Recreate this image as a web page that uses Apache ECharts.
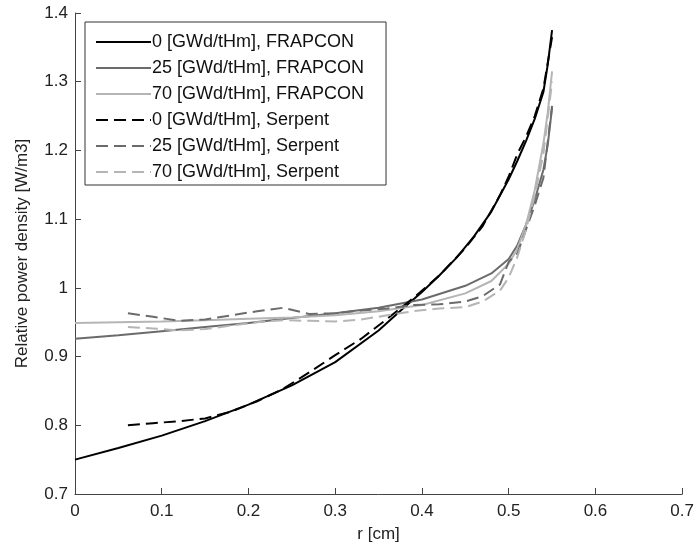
<!DOCTYPE html>
<html>
<head>
<meta charset="utf-8">
<script src="https://cdn.jsdelivr.net/npm/echarts@6/dist/echarts.min.js"></script>
<style>
html,body{margin:0;padding:0;background:#fff;}
#chart{width:697px;height:551px;}
</style>
</head>
<body>
<div id="chart"></div>
<script>
// ---- data ----
const seriesNames = [
  '0 [GWd/tHm], FRAPCON',
  '25 [GWd/tHm], FRAPCON',
  '70 [GWd/tHm], FRAPCON',
  '0 [GWd/tHm], Serpent',
  '25 [GWd/tHm], Serpent',
  '70 [GWd/tHm], Serpent'
];
const xTicks = [0, 0.1, 0.2, 0.3, 0.4, 0.5, 0.6, 0.7];
const yTicks = [0.7, 0.8, 0.9, 1.0, 1.1, 1.2, 1.3, 1.4];

const xFrap0 = [0, 0.05, 0.1, 0.15, 0.2, 0.25, 0.3, 0.35, 0.38, 0.4, 0.42, 0.44, 0.46, 0.48, 0.5, 0.51, 0.52, 0.53, 0.54, 0.545, 0.55];
const yFrap0 = [0.750, 0.767, 0.785, 0.806, 0.830, 0.858, 0.892, 0.938, 0.972, 0.994, 1.018, 1.044, 1.075, 1.111, 1.158, 1.185, 1.214, 1.246, 1.285, 1.325, 1.375];

const xFrap = [0, 0.05, 0.1, 0.15, 0.2, 0.25, 0.3, 0.35, 0.4, 0.45, 0.48, 0.5, 0.51, 0.52, 0.53, 0.54, 0.545, 0.55];
const yFrap25 = [0.926, 0.931, 0.937, 0.943, 0.949, 0.956, 0.963, 0.971, 0.983, 1.003, 1.021, 1.042, 1.062, 1.092, 1.128, 1.172, 1.208, 1.262];
const yFrap70 = [0.949, 0.950, 0.951, 0.953, 0.955, 0.957, 0.960, 0.966, 0.975, 0.992, 1.010, 1.035, 1.057, 1.092, 1.142, 1.210, 1.255, 1.315];

const xSerp = [0.061, 0.09, 0.12, 0.15, 0.18, 0.21, 0.24, 0.27, 0.30, 0.33, 0.36, 0.39, 0.42, 0.45, 0.47, 0.49, 0.50, 0.51, 0.52, 0.53, 0.54, 0.55];
const ySerp0 = [0.800, 0.803, 0.806, 0.810, 0.820, 0.835, 0.853, 0.877, 0.902, 0.926, 0.955, 0.985, 1.018, 1.058, 1.090, 1.135, 1.162, 1.195, 1.220, 1.250, 1.290, 1.365];
const ySerp25 = [0.963, 0.958, 0.952, 0.954, 0.960, 0.966, 0.971, 0.962, 0.963, 0.967, 0.970, 0.975, 0.976, 0.980, 0.988, 1.005, 1.038, 1.050, 1.085, 1.120, 1.160, 1.265];
const ySerp70 = [0.943, 0.941, 0.938, 0.940, 0.945, 0.950, 0.953, 0.952, 0.951, 0.954, 0.960, 0.966, 0.970, 0.972, 0.980, 0.996, 1.015, 1.045, 1.085, 1.135, 1.195, 1.300];

// ---- chart ----
const zip = (xs, ys) => xs.map((x, i) => [x, ys[i]]);
const colors = ['#000000', '#6b6b6b', '#b5b5b5', '#000000', '#6b6b6b', '#b5b5b5'];
const sets = [
  zip(xFrap0, yFrap0), zip(xFrap, yFrap25), zip(xFrap, yFrap70),
  zip(xSerp, ySerp0), zip(xSerp, ySerp25), zip(xSerp, ySerp70)
];
const font = 'Liberation Sans, Arial, Helvetica, sans-serif';
const fmt = v => String(Math.round(v * 10) / 10);

const chart = echarts.init(document.getElementById('chart'), null, {renderer: 'canvas'});
chart.setOption({
  animation: false,
  backgroundColor: '#ffffff',
  grid: {left: 75, right: 14, top: 13, bottom: 57, containLabel: false},
  xAxis: {
    type: 'value', min: xTicks[0], max: xTicks[xTicks.length - 1], interval: 0.1,
    name: 'r [cm]', nameLocation: 'middle', nameGap: 32,
    nameTextStyle: {fontFamily: font, fontSize: 17, color: '#222'},
    axisLine: {show: true, lineStyle: {color: '#444', width: 1}},
    axisTick: {show: true, inside: true, length: 6, lineStyle: {color: '#444'}},
    axisLabel: {formatter: fmt, fontFamily: font, fontSize: 17, color: '#222', margin: 9},
    splitLine: {show: false}
  },
  yAxis: {
    type: 'value', min: yTicks[0], max: yTicks[yTicks.length - 1], interval: 0.1,
    name: 'Relative power density [W/m3]', nameLocation: 'middle', nameGap: 44,
    nameTextStyle: {fontFamily: font, fontSize: 17, color: '#222'},
    axisLine: {show: true, lineStyle: {color: '#444', width: 1}},
    axisTick: {show: true, inside: true, length: 6, lineStyle: {color: '#444'}},
    axisLabel: {formatter: fmt, fontFamily: font, fontSize: 17, color: '#222', margin: 7},
    splitLine: {show: false}
  },
  legend: {
    orient: 'vertical', left: 85, top: 22,
    backgroundColor: '#fff', borderColor: '#333', borderWidth: 1,
    padding: [11, 22, 4, 10],
    itemWidth: 55, itemHeight: 14, itemGap: 8,
    itemStyle: {color: 'rgba(0,0,0,0)', borderWidth: 0, opacity: 0},
    textStyle: {fontFamily: font, fontSize: 18, lineHeight: 18, color: '#111', padding: [0, 0, 0, -4]},
    data: seriesNames
  },
  series: seriesNames.map((name, i) => ({
    name: name, type: 'line', data: sets[i],
    symbol: 'none', showSymbol: false, smooth: false,
    lineStyle: {color: colors[i], width: 2, type: i < 3 ? 'solid' : [12, 6]},
    itemStyle: {color: colors[i]},
    z: 2 + i
  }))
});
</script>
</body>
</html>
